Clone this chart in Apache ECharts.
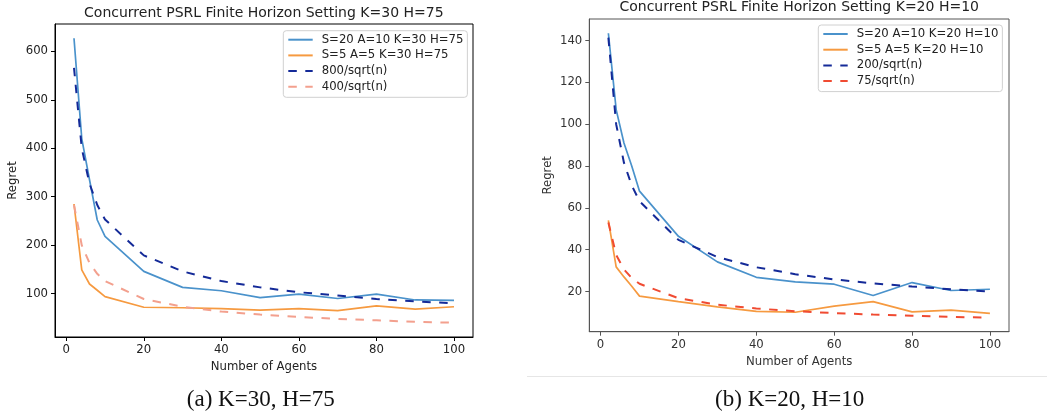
<!DOCTYPE html>
<html>
<head>
<meta charset="utf-8">
<script src="https://cdn.jsdelivr.net/npm/echarts@6/dist/echarts.min.js"></script>
<style>
html,body{margin:0;padding:0;background:#fff;}
#chart{width:1047px;height:417px;}
</style>
</head>
<body>
<div id="chart"></div>
<script>
// ---- data ----
const agents = [2, 4, 6, 8, 10, 20, 30, 40, 50, 60, 70, 80, 90, 100];

// (a) K=30, H=75
const leftBlue   = [627, 420, 335, 252, 218, 146, 113, 106, 92, 99, 90, 99, 87, 86];
const leftOrange = [285, 149, 120, 107, 94, 72, 71, 69, 66, 69, 65, 75, 68, 73];
const leftNavy   = [566, 400, 327, 283, 253, 179, 146, 126, 113, 103, 96, 89, 84, 80];
const leftSalmon = [283, 200, 163, 141, 126, 89, 73, 63, 57, 52, 48, 45, 42, 40];

// (b) K=20, H=10
const rightBlue   = [143.5, 107, 91, 80, 68, 46.4, 34.2, 26.8, 24.6, 23.5, 18.1, 24.3, 20.5, 21.1];
const rightOrange = [54, 31.8, 27, 22.5, 17.8, 15.2, 12.7, 10.5, 10.1, 13, 15.2, 10.3, 11.1, 9.6];
const rightNavy   = [141.4, 100, 81.6, 70.7, 63.2, 44.7, 36.5, 31.6, 28.3, 25.8, 23.9, 22.4, 21.1, 20];
const rightRed    = [53, 37.5, 30.6, 26.5, 23.7, 16.8, 13.7, 11.9, 10.6, 9.7, 9, 8.4, 7.9, 7.5];

const leftNames  = ["S=20 A=10 K=30 H=75", "S=5 A=5 K=30 H=75", "800/sqrt(n)", "400/sqrt(n)"];
const rightNames = ["S=20 A=10 K=20 H=10", "S=5 A=5 K=20 H=10", "200/sqrt(n)", "75/sqrt(n)"];

const xTicks      = [0, 20, 40, 60, 80, 100];
const yTicksLeft  = [100, 200, 300, 400, 500, 600];
const yTicksRight = [20, 40, 60, 80, 100, 120, 140];

const titles   = ["Concurrent PSRL Finite Horizon Setting K=30 H=75", "Concurrent PSRL Finite Horizon Setting K=20 H=10"];
const captions = ["(a) K=30, H=75", "(b) K=20, H=10"];
const xName = "Number of Agents";
const yName = "Regret";

// ---- styling ----
const FONT = "DejaVu Sans";
const FS = 11.7;
const C_BLUE = "#4a92cb", C_ORANGE = "#f69a40", C_NAVY = "#142a98", C_SALMON = "#f3a08e", C_RED = "#f04b32";

const pairs = ys => agents.map((x, i) => [x, ys[i]]);

function xAxisCfg(gi, lineColor, textColor) {
  return {
    type: "value", gridIndex: gi, min: -2.9, max: 104.9,
    name: xName, nameLocation: "middle", nameGap: 24,
    nameTextStyle: {fontFamily: FONT, fontSize: FS, color: textColor},
    axisLine: {show: true, onZero: false, lineStyle: {color: lineColor, width: 1}},
    axisTick: {show: true, length: 4, customValues: xTicks, lineStyle: {color: lineColor}},
    axisLabel: {customValues: xTicks, fontFamily: FONT, fontSize: FS, color: textColor, margin: 7},
    splitLine: {show: false}
  };
}
function yAxisCfg(gi, min, max, ticks, gap, lineColor, textColor) {
  return {
    type: "value", gridIndex: gi, min: min, max: max,
    name: yName, nameLocation: "middle", nameGap: gap,
    nameTextStyle: {fontFamily: FONT, fontSize: FS, color: textColor},
    axisLine: {show: true, onZero: false, lineStyle: {color: lineColor, width: 1}},
    axisTick: {show: true, length: 4, customValues: ticks, lineStyle: {color: lineColor}},
    axisLabel: {customValues: ticks, fontFamily: FONT, fontSize: FS, color: textColor, margin: 7},
    splitLine: {show: false}
  };
}
function lineSeries(name, gi, ys, color, dashed) {
  return {
    type: "line", name: name, xAxisIndex: gi, yAxisIndex: gi,
    data: pairs(ys), symbol: "none", showSymbol: false, animation: false,
    lineStyle: {color: color, width: dashed ? 2 : 1.7, type: dashed ? [8.5, 8.5] : "solid"},
    itemStyle: {color: color}
  };
}
function legendCfg(names, left, top) {
  return {
    orient: "vertical", left: left, top: top, data: names,
    itemWidth: 24.4, itemHeight: 14, itemGap: 3.7,
    padding: [3, 4, 4.5, 4],
    itemStyle: {opacity: 0},
    borderColor: "#d0d0d0", borderWidth: 1, borderRadius: 3, backgroundColor: "rgba(255,255,255,0.8)",
    textStyle: {fontFamily: FONT, fontSize: FS, color: "#222", padding: [0, 0, 0, 4]},
    selectedMode: false
  };
}

const chart = echarts.init(document.getElementById("chart"), null, {renderer: "canvas"});
chart.setOption({
  animation: false,
  backgroundColor: "#fff",
  grid: [
    {left: 55, top: 24, width: 418, height: 313, show: true, borderColor: "#000", borderWidth: 1, backgroundColor: "transparent"},
    {left: 589.3, top: 19, width: 419.7, height: 312.7, show: true, borderColor: "#555", borderWidth: 1, backgroundColor: "transparent"}
  ],
  xAxis: [xAxisCfg(0, "#000", "#222"), xAxisCfg(1, "#555", "#333")],
  yAxis: [
    yAxisCfg(0, 10.6, 656.4, yTicksLeft, 36, "#000", "#222"),
    yAxisCfg(1, 0.8, 150.3, yTicksRight, 35, "#555", "#333")
  ],
  legend: [legendCfg(leftNames, 283.3, 30.7), legendCfg(rightNames, 818.3, 25)],
  series: [
    lineSeries(leftNames[0], 0, leftBlue, C_BLUE, false),
    lineSeries(leftNames[1], 0, leftOrange, C_ORANGE, false),
    lineSeries(leftNames[2], 0, leftNavy, C_NAVY, true),
    lineSeries(leftNames[3], 0, leftSalmon, C_SALMON, true),
    lineSeries(rightNames[0], 1, rightBlue, C_BLUE, false),
    lineSeries(rightNames[1], 1, rightOrange, C_ORANGE, false),
    lineSeries(rightNames[2], 1, rightNavy, C_NAVY, true),
    lineSeries(rightNames[3], 1, rightRed, C_RED, true)
  ],
  graphic: [
    {type: "text", x: 263.8, y: 13.3, style: {text: titles[0], font: "14px 'DejaVu Sans'", fill: "#222", align: "center", verticalAlign: "middle"}},
    {type: "text", x: 799.2, y: 7.3, style: {text: titles[1], font: "14px 'DejaVu Sans'", fill: "#222", align: "center", verticalAlign: "middle"}},
    {type: "text", x: 260.8, y: 400, style: {text: captions[0], font: "23px 'Liberation Serif'", fill: "#111", align: "center", verticalAlign: "middle"}},
    {type: "text", x: 789.7, y: 400, style: {text: captions[1], font: "23px 'Liberation Serif'", fill: "#111", align: "center", verticalAlign: "middle"}},
    {type: "line", shape: {x1: 527, y1: 376.5, x2: 1047, y2: 376.5}, style: {stroke: "#e6e6e6", lineWidth: 1}}
  ]
});
</script>
</body>
</html>
